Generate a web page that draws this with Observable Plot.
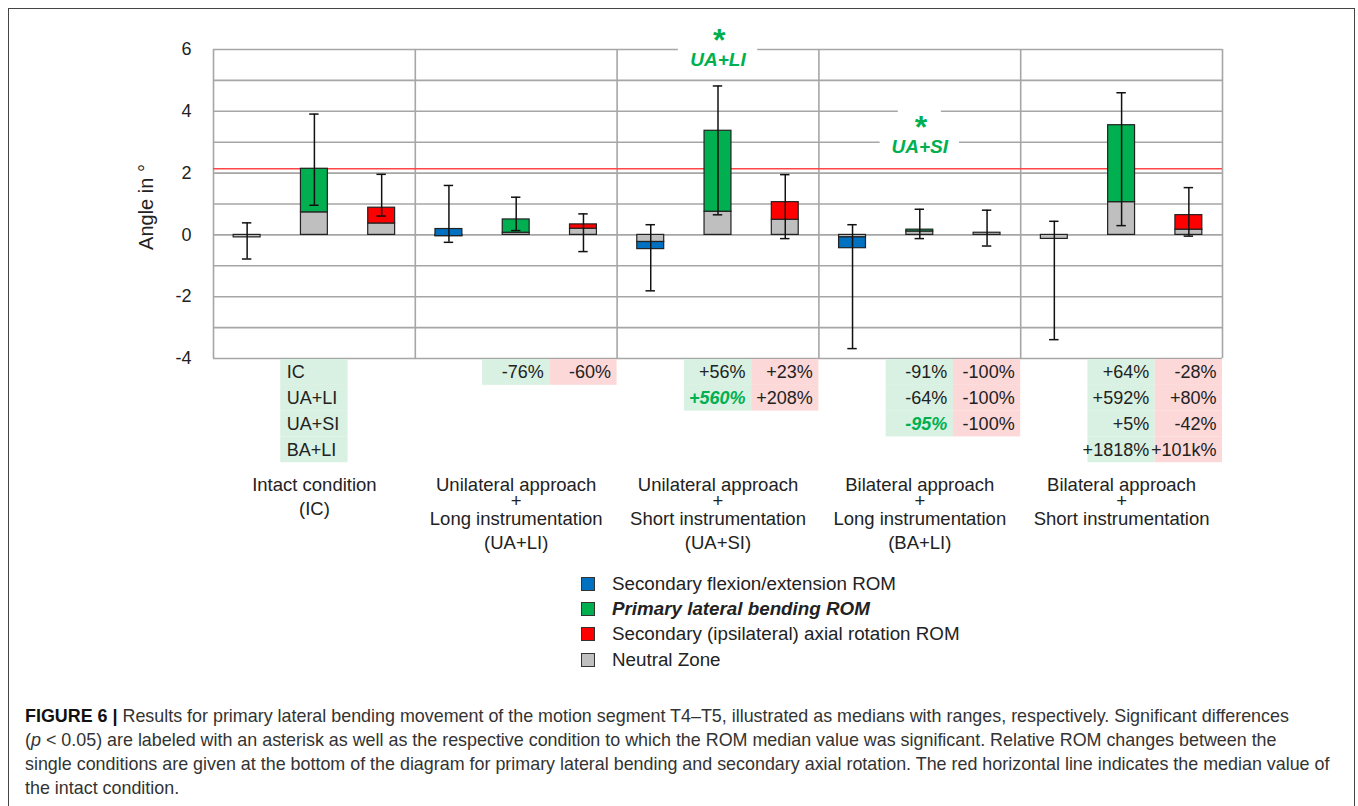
<!DOCTYPE html>
<html><head><meta charset="utf-8">
<script src="https://cdn.jsdelivr.net/npm/d3@7"></script>
<script src="https://cdn.jsdelivr.net/npm/@observablehq/plot@0.6"></script>
<style>
body{margin:0;background:#fff;font-family:"Liberation Sans",Arial,sans-serif;}
#frame{position:absolute;left:8px;top:8px;width:1347px;height:830px;border:1.5px solid #444;box-sizing:border-box;}
#chart{position:absolute;left:0;top:0;}
#legend{position:absolute;left:581px;top:571px;font-size:18.8px;color:#222;}
.lrow{height:25.3px;display:flex;align-items:center;white-space:nowrap;}
.sw{width:14px;height:14px;border:1px solid #333;margin-right:17px;box-sizing:border-box;}
#caption{position:absolute;left:25px;top:704px;font-size:17.9px;line-height:24px;color:#333;white-space:nowrap;}
</style></head>
<body>
<div id="frame"></div>
<div id="chart"></div>
<div id="legend"></div>
<div id="caption"><b style="color:#111">FIGURE 6 |</b> Results for primary lateral bending movement of the motion segment T4–T5, illustrated as medians with ranges, respectively. Significant differences<br>(<i>p</i> &lt; 0.05) are labeled with an asterisk as well as the respective condition to which the ROM median value was significant. Relative ROM changes between the<br>single conditions are given at the bottom of the diagram for primary lateral bending and secondary axial rotation. The red horizontal line indicates the median value of<br>the intact condition.</div>
<script>
// ---- data ----
const groups = ["IC", "UA+LI", "UA+SI", "BA+LI", "BA+SI"];
const groupLabels = [
  ["Intact condition", "(IC)"],
  ["Unilateral approach", "+", "Long instrumentation", "(UA+LI)"],
  ["Unilateral approach", "+", "Short instrumentation", "(UA+SI)"],
  ["Bilateral approach", "+", "Long instrumentation", "(BA+LI)"],
  ["Bilateral approach", "+", "Short instrumentation"]
];
const measures = ["Secondary flexion/extension ROM", "Primary lateral bending ROM", "Secondary (ipsilateral) axial rotation ROM"];
const neutralLabel = "Neutral Zone";
const yTicks = [-4, -2, 0, 2, 4, 6];
const yLabel = "Angle in °";

// flexion/extension
const flexNZ  = [-0.08, -0.04, -0.23, -0.08, -0.13];
const flexROM = [-0.08,  0.19, -0.46, -0.43, -0.13];
const flexMin = [-0.78, -0.24, -1.81, -3.68, -3.39];
const flexMax = [ 0.39,  1.60,  0.33,  0.33,  0.44];
// lateral bending
const lbNZ  = [0.73, 0.07, 0.75, 0.11, 1.06];
const lbROM = [2.14, 0.50, 3.37, 0.17, 3.55];
const lbMin = [0.96, 0.14, 0.65, -0.12, 0.30];
const lbMax = [3.91, 1.22, 4.82, 0.83, 4.60];
// axial rotation
const arNZ  = [0.37, 0.20, 0.49, 0.07, 0.17];
const arROM = [0.88, 0.34, 1.06, 0.07, 0.64];
const arMin = [0.61, -0.54, -0.12, -0.36, -0.04];
const arMax = [1.96, 0.68, 1.95, 0.80, 1.53];

// relative changes table
const lbChange = [["IC", "UA+LI", "UA+SI", "BA+LI"], ["-76%"], ["+56%", "+560%"], ["-91%", "-64%", "-95%"], ["+64%", "+592%", "+5%", "+1818%"]];
const arChange = [[], ["-60%"], ["+23%", "+208%"], ["-100%", "-100%", "-100%"], ["-28%", "+80%", "-42%", "+101k%"]];
const lbSignificant = [[], [], ["+560%"], ["-95%"], []];

// significance annotations: group index, compared condition
const sigGroups = [2, 3];
const sigVs = ["UA+LI", "UA+SI"];

// ---- styles ----
const colors = ["#0070c0", "#00b050", "#ff0000"];
const nzColor = "#bfbfbf";
const gridColor = "#a6a6a6";
const sigGreen = "#00b050";

// ---- build ----
const W = 1358, H = 560, mL = 213, mR = 136, mT = 49, mB = 202;
const unit = (H - mT - mB) / 10;
const below = px => -4 - px / unit;
const rowH = 25.8;
const tableFont = 18;
const labelFont = 18.5;

const series = [
  [flexNZ, flexROM, flexMin, flexMax],
  [lbNZ, lbROM, lbMin, lbMax],
  [arNZ, arROM, arMin, arMax]
];
const bars = [];
groups.forEach((g, gi) => {
  series.forEach(([nz, rom, mn, mx], m) => {
    bars.push({g, gi, m, pos: gi * 3 + m + 0.5, nz: nz[gi], rom: rom[gi], min: mn[gi], max: mx[gi]});
  });
});
const hw = 0.2, cap = 0.07;

const cells = [];
groups.forEach((g, gi) => {
  lbChange[gi].forEach((t, r) => cells.push({gi, col: 1, r, text: t, fill: "#d8f1e2", sig: lbSignificant[gi].includes(t), left: gi === 0}));
  arChange[gi].forEach((t, r) => cells.push({gi, col: 2, r, text: t, fill: "#fcd8d8", sig: false, left: false}));
});

const labelOffsets = n => n === 2 ? [126.3, 150.3] : [126.3, 142.7, 161, 184.3];
const labelLines = [];
groupLabels.forEach((lines, gi) => {
  const off = labelOffsets(lines.length);
  lines.forEach((t, li) => labelLines.push({x: gi * 3 + 1.5, y: below(off[li]), text: t}));
});

const sigLayout = [
  {starY: 6.28, labelY: 5.65, boxes: [[0.59, 5.3, 6.25]]},
  {starY: 3.47, labelY: 2.84, boxes: [[0.32, 3.3, 4.2], [0.59, 2.45, 3.3]]}
];
const sigAnn = sigGroups.map((gi, i) => ({x: gi * 3 + 1.5, vs: sigVs[i], ...sigLayout[i]}));
const whiteBoxes = sigAnn.flatMap(a => a.boxes.map(([w, y1, y2]) => ({x1: a.x - w, x2: a.x + w, y1, y2})));

const chart = Plot.plot({
  width: W, height: H,
  marginLeft: mL, marginRight: mR, marginTop: mT, marginBottom: mB,
  style: {fontFamily: "'Liberation Sans', Arial, sans-serif", fontSize: "18px", color: "#222", background: "transparent"},
  x: {domain: [0, 15], axis: null},
  y: {domain: [-4, 6], ticks: yTicks, tickSize: 0, tickPadding: 22, label: null, tickFormat: d => String(d)},
  color: {type: "identity"},
  marks: [
    Plot.ruleY(d3.range(-4, 7), {stroke: gridColor, strokeWidth: 1.6}),
    Plot.ruleX([0, 3, 6, 9, 12, 15], {y1: -4, y2: 6, stroke: gridColor, strokeWidth: 1.6}),
    Plot.ruleY([lbROM[0]], {stroke: "#ff4545", strokeWidth: 1.6}),
    Plot.rect(whiteBoxes, {x1: "x1", x2: "x2", y1: "y1", y2: "y2", fill: "white"}),
    Plot.rect(bars, {x1: d => d.pos - hw, x2: d => d.pos + hw, y1: 0, y2: "nz", fill: nzColor, stroke: "#222", strokeWidth: 1.2}),
    Plot.rect(bars.filter(d => d.rom !== d.nz), {x1: d => d.pos - hw, x2: d => d.pos + hw, y1: "nz", y2: "rom", fill: d => colors[d.m], stroke: "#222", strokeWidth: 1.2}),
    Plot.ruleX(bars, {x: "pos", y1: "min", y2: "max", stroke: "#111", strokeWidth: 1.5}),
    Plot.ruleY(bars, {y: "min", x1: d => d.pos - cap, x2: d => d.pos + cap, stroke: "#111", strokeWidth: 1.5}),
    Plot.ruleY(bars, {y: "max", x1: d => d.pos - cap, x2: d => d.pos + cap, stroke: "#111", strokeWidth: 1.5}),
    Plot.text(sigAnn, {x: "x", y: "starY", text: () => "*", fill: sigGreen, fontSize: 32, fontWeight: "bold", fontStyle: "italic"}),
    Plot.text(sigAnn, {x: "x", y: "labelY", text: "vs", fill: sigGreen, fontSize: 19, fontWeight: "bold", fontStyle: "italic"}),
    Plot.text([yLabel], {frameAnchor: "left", textAnchor: "middle", dx: -67, dy: 3, rotate: -90, fontSize: 20, fill: "#222"}),
    // table
    Plot.rect(cells, {x1: d => d.gi * 3 + d.col, x2: d => d.gi * 3 + d.col + 1, y1: d => below(1 + d.r * rowH), y2: d => below(1 + (d.r + 1) * rowH), fill: "fill"}),
    Plot.text(cells.filter(d => d.left), {x: d => d.gi * 3 + d.col + 0.09, y: d => below(1 + (d.r + 0.5) * rowH), text: "text", textAnchor: "start", fontSize: tableFont, fill: "#222"}),
    Plot.text(cells.filter(d => !d.left && !d.sig), {x: d => d.gi * 3 + d.col + 1 - 0.09, y: d => below(1 + (d.r + 0.5) * rowH), text: "text", textAnchor: "end", fontSize: tableFont, fill: "#222"}),
    Plot.text(cells.filter(d => d.sig), {x: d => d.gi * 3 + d.col + 1 - 0.09, y: d => below(1 + (d.r + 0.5) * rowH), text: "text", textAnchor: "end", fontSize: tableFont, fill: sigGreen, fontWeight: "bold", fontStyle: "italic"}),
    Plot.text(labelLines, {x: "x", y: "y", text: "text", fontSize: labelFont, fill: "#222"})
  ]
});
document.getElementById("chart").append(chart);

// legend
const legend = document.getElementById("legend");
[...measures.map((m, i) => ({label: m, color: colors[i], bold: i === 1})), {label: neutralLabel, color: nzColor, bold: false}].forEach(d => {
  const row = document.createElement("div");
  row.className = "lrow";
  const sw = document.createElement("div");
  sw.className = "sw";
  sw.style.background = d.color;
  const tx = document.createElement("span");
  tx.textContent = d.label;
  if (d.bold) { tx.style.fontWeight = "bold"; tx.style.fontStyle = "italic"; }
  row.append(sw, tx);
  legend.append(row);
});
</script>
</body></html>
